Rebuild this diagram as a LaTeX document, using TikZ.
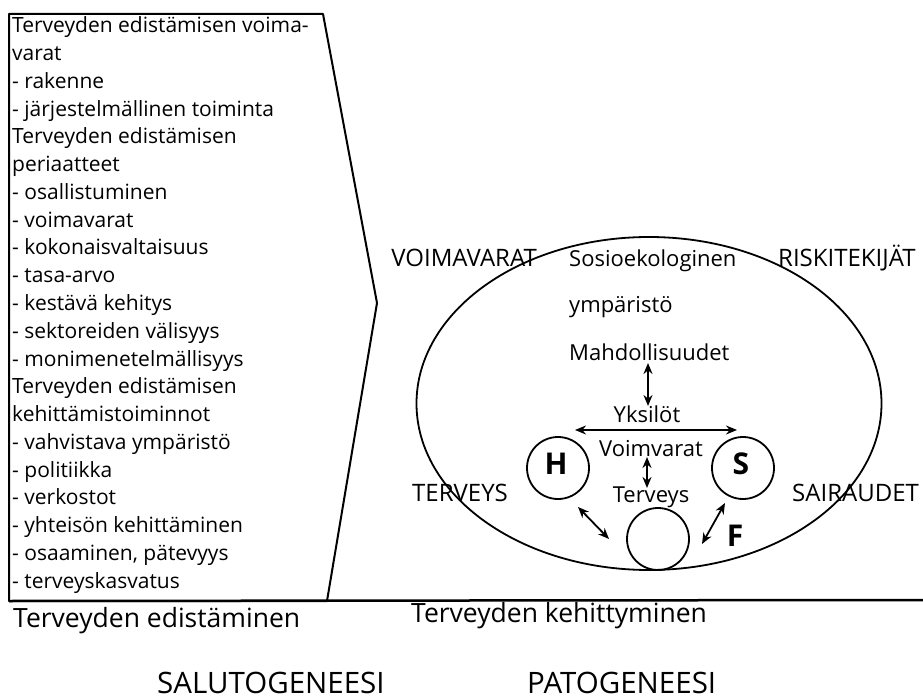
\documentclass[tikz,border=0pt]{standalone}
\usepackage{fontspec}
\setmainfont{Open Sans}
\usetikzlibrary{arrows.meta}
\begin{document}
\begin{tikzpicture}[x=1pt,y=-1pt,
  list/.style={anchor=base west,inner sep=0pt,font=\fontsize{21}{25}\selectfont},
  lbl/.style={inner sep=0pt,font=\fontsize{22}{26}\selectfont},
  caps/.style={inner sep=0pt,font=\fontsize{24}{28}\selectfont},
  big/.style={anchor=base west,inner sep=0pt,font=\fontsize{26.5}{30}\selectfont},
  bigcaps/.style={anchor=base west,inner sep=0pt,font=\fontsize{29.5}{33}\selectfont},
  ring/.style={circle,draw,line width=1.8pt,minimum size=62pt,inner sep=0pt},
  dbl/.style={{Stealth[length=11pt,width=9pt]}-{Stealth[length=11pt,width=9pt]},line width=1.8pt},
  letter/.style={inner sep=0pt,font=\fontsize{30}{34}\selectfont\bfseries}]
\useasboundingbox (0,0) rectangle (923,700);
\fill[white] (0,0) rectangle (923,700);

% left box (arrow shape)
\draw[line width=2pt,line join=round] (9,14) -- (323,14) -- (377,303) -- (327,601) -- (9,601) -- cycle;
\draw[line width=2.5pt] (9,601) -- (923,600);

% list text
\foreach \t [count=\i] in {Terveyden edistämisen voima-, varat, - rakenne,
  - järjestelmällinen toiminta, Terveyden edistämisen, periaatteet,
  - osallistuminen, - voimavarat, - kokonaisvaltaisuus, - tasa-arvo,
  - kestävä kehitys, - sektoreiden välisyys, - monimenetelmällisyys,
  Terveyden edistämisen, kehittämistoiminnot, - vahvistava ympäristö,
  - politiikka, - verkostot, - yhteisön kehittäminen,
  {- osaaminen, pätevyys}, - terveyskasvatus}
  \node[list] (l\i) at (12,{33+27.75*(\i-1)}) {\t};

% bottom labels
\node[big] (ted) at (13,627) {Terveyden edistäminen};
\node[big] (tke) at (411,622) {Terveyden kehittyminen};
\node[bigcaps] (salu) at (157,693) {SALUTOGENEESI};
\node[bigcaps] (pato) at (527,693) {PATOGENEESI};

% ellipse
\draw[line width=1.8pt] (649,403.5) ellipse [x radius=232.5pt, y radius=166.5pt];

% outer labels
\node[caps,anchor=base east] (vv) at (537,267) {VOIMAVARAT};
\node[caps,anchor=base west] (rt) at (778,267) {RISKITEKIJÄT};
\node[caps,anchor=base west] (tv) at (412,501) {TERVEYS};
\node[caps,anchor=base west] (sa) at (792,501) {SAIRAUDET};

% inner labels
\node[lbl,anchor=base west] (so) at (569,267) {Sosioekologinen};
\node[lbl,anchor=base west] (ym) at (569,313) {ympäristö};
\node[lbl,anchor=base west] (ma) at (569,360) {Mahdollisuudet};
\node[lbl,anchor=base] (yk) at (647,422) {Yksilöt};
\node[lbl,anchor=base] (vo) at (651,456) {Voimvarat};
\node[lbl,anchor=base] (te) at (651,502) {Terveys};

% circles
\node[ring] (h) at (558,468) {};
\node[ring] (s) at (743,468) {};
\node[ring] (c) at (658,539) {};
\node[letter] (hl) at (556,464) {H};
\node[letter] (sl) at (741,464) {S};
\node[letter] (fl) at (735,536) {F};

% arrows
\coordinate (a1t) at (648,363);
\coordinate (a1b) at (648,406);
\coordinate (a2l) at (575,430);
\coordinate (a2r) at (737,430);
\coordinate (a3t) at (647,457);
\coordinate (a3b) at (647,488);
\coordinate (a4a) at (578,507);
\coordinate (a4b) at (609,539);
\coordinate (a5a) at (725,503);
\coordinate (a5b) at (702,544);
\draw[dbl] (a1t) -- (a1b);
\draw[dbl] (a2l) -- (a2r);
\draw[dbl] (a3t) -- (a3b);
\draw[dbl] (a4a) -- (a4b);
\draw[dbl] (a5a) -- (a5b);
\end{tikzpicture}
\end{document}
